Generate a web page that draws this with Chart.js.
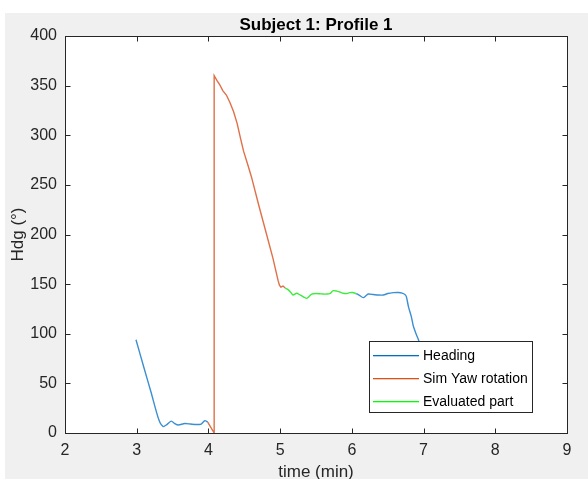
<!DOCTYPE html>
<html>
<head>
<meta charset="utf-8">
<script src="https://cdn.jsdelivr.net/npm/chart.js@4.4.1/dist/chart.umd.min.js"></script>
<style>
  html, body { margin: 0; padding: 0; background: #fff; }
  #wrap { width: 588px; height: 479px; }
</style>
</head>
<body>
<div id="wrap"><canvas id="hdgChart" width="588" height="479"></canvas></div>
<script>
  // heading before and after the simulated yaw section (min, deg)
  const headingT1 = [2.99, 3.1, 3.2, 3.31, 3.37, 3.42, 3.48, 3.53, 3.58, 3.67, 3.75, 3.83, 3.9, 3.95, 3.99];
  const headingV1 = [94, 66, 41, 13, 6.5, 8.5, 12, 9.5, 8, 9.5, 9, 8.5, 9, 12.5, 11];
  const headingT2 = [6.06, 6.1, 6.16, 6.2, 6.23, 6.3, 6.37, 6.44, 6.5, 6.58, 6.65, 6.7, 6.74, 6.76, 6.79, 6.83, 6.86, 6.9, 6.93, 6.98];
  const headingV2 = [140.5, 139, 136.4, 138.5, 140, 139.5, 139, 139, 140.5, 141.4, 141.6, 141, 139.5, 137.4, 127, 117, 107, 99, 93.7, 80];

  // simulated yaw rotation
  const yawT = [3.99, 4.08, 4.08, 4.12, 4.16, 4.2, 4.25, 4.3, 4.35, 4.4, 4.45, 4.49, 4.55, 4.6, 4.7, 4.8, 4.9, 4.97, 4.99, 5.01, 5.04, 5.07];
  const yawV = [11, 0, 360, 355, 350.6, 345, 340.5, 333, 324, 312, 296, 284, 270, 258, 230, 203, 176, 154, 149, 147, 148, 146];

  // evaluated part
  const evalT = [5.07, 5.1, 5.14, 5.18, 5.23, 5.28, 5.33, 5.37, 5.41, 5.44, 5.5, 5.55, 5.6, 5.65, 5.7, 5.74, 5.79, 5.84, 5.88, 5.93, 5.97, 6.01, 6.06];
  const evalV = [146, 145, 142.4, 139, 140.8, 139, 137, 135.7, 138, 140, 140.5, 140.3, 140, 140, 140.8, 143.4, 143, 141.8, 140.8, 140.5, 141.4, 141.5, 140.5];

  const xTicks = [2, 3, 4, 5, 6, 7, 8, 9];
  const yTicks = [0, 50, 100, 150, 200, 250, 300, 350, 400];

  const legendNames = ["Heading", "Sim Yaw rotation", "Evaluated part"];
  const lineColors = ["#0072bd", "#d95319", "#00ff00"];

  const FONT = "'Liberation Sans', Arial, Helvetica, sans-serif";
  const INK = "#262626";

  function pts(ts, vs) {
    return ts.map((t, i) => ({ x: t, y: vs[i] }));
  }

  const headingData = pts(headingT1, headingV1).concat([{ x: 5, y: null }], pts(headingT2, headingV2));

  // figure background, axes box with inward ticks, titles and legend
  const matlabLook = {
    id: "matlabLook",
    beforeDraw(chart) {
      const { ctx, chartArea: a } = chart;
      ctx.save();
      ctx.fillStyle = "#fff";
      ctx.fillRect(0, 0, chart.width, chart.height);
      ctx.fillStyle = "#f0f0f0";
      ctx.fillRect(5, 13, chart.width - 5, chart.height - 13);
      ctx.fillStyle = "#fff";
      ctx.fillRect(a.left, a.top, a.right - a.left, a.bottom - a.top);
      ctx.restore();
    },
    afterDatasetsDraw(chart) {
      const { ctx, chartArea: a, scales } = chart;
      ctx.save();
      ctx.strokeStyle = INK;
      ctx.lineWidth = 1;
      const L = Math.round(a.left) + 0.5, R = Math.round(a.right) + 0.5;
      const T = Math.round(a.top) + 0.5, B = Math.round(a.bottom) + 0.5;
      ctx.strokeRect(L, T, R - L, B - T);
      ctx.beginPath();
      xTicks.forEach(v => {
        const px = Math.round(scales.x.getPixelForValue(v)) + 0.5;
        ctx.moveTo(px, B); ctx.lineTo(px, B - 5);
        ctx.moveTo(px, T); ctx.lineTo(px, T + 5);
      });
      yTicks.forEach(v => {
        const py = Math.round(scales.y.getPixelForValue(v)) + 0.5;
        ctx.moveTo(L, py); ctx.lineTo(L + 5, py);
        ctx.moveTo(R, py); ctx.lineTo(R - 5, py);
      });
      ctx.stroke();

      // titles
      ctx.fillStyle = "#000";
      ctx.textAlign = "center";
      ctx.textBaseline = "middle";
      ctx.font = "bold 17px " + FONT;
      ctx.fillText("Subject 1: Profile 1", (a.left + a.right) / 2, 25);
      ctx.fillStyle = INK;
      ctx.font = "17px " + FONT;
      ctx.fillText("time (min)", (a.left + a.right) / 2, 472);
      ctx.save();
      ctx.translate(18, (a.top + a.bottom) / 2);
      ctx.rotate(-Math.PI / 2);
      ctx.fillText("Hdg (°)", 0, 0);
      ctx.restore();

      // legend box
      const bx = 369.5, by = 341.5, bw = 163, bh = 71;
      ctx.fillStyle = "#fff";
      ctx.fillRect(bx, by, bw, bh);
      ctx.strokeStyle = INK;
      ctx.strokeRect(bx, by, bw, bh);
      ctx.font = "14px " + FONT;
      ctx.textAlign = "left";
      legendNames.forEach((name, i) => {
        const y = 355 + i * 23;
        ctx.fillStyle = lineColors[i];
        ctx.fillRect(373, y, 46, 1.3);
        ctx.fillStyle = "#000";
        ctx.fillText(name, 423, y + 1);
      });
      ctx.restore();
    }
  };

  new Chart(document.getElementById("hdgChart"), {
    type: "scatter",
    data: {
      datasets: [
        { label: legendNames[0], data: headingData, borderColor: "#3a8fd2", borderWidth: 1.4, showLine: true, pointRadius: 0, tension: 0.25, spanGaps: false },
        { label: legendNames[1], data: pts(yawT, yawV), borderColor: "#e07048", borderWidth: 1.4, showLine: true, pointRadius: 0, tension: 0 },
        { label: legendNames[2], data: pts(evalT, evalV), borderColor: "#3eec3e", borderWidth: 1.4, showLine: true, pointRadius: 0, tension: 0.25 }
      ]
    },
    options: {
      responsive: false,
      animation: false,
      layout: { padding: { top: 36, right: 21, left: 0, bottom: 0 } },
      plugins: { legend: { display: false }, tooltip: { enabled: false } },
      scales: {
        x: {
          type: "linear", min: 2, max: 9,
          afterFit(s) { s.height = 46; },
          afterBuildTicks(s) { s.ticks = xTicks.map(v => ({ value: v })); },
          grid: { display: false, drawTicks: false },
          border: { display: false },
          ticks: { padding: 8, color: INK, font: { family: FONT, size: 16 }, autoSkip: false, maxRotation: 0 }
        },
        y: {
          type: "linear", min: 0, max: 400,
          afterFit(s) { s.width = 65; },
          afterBuildTicks(s) { s.ticks = yTicks.map(v => ({ value: v })); },
          grid: { display: false, drawTicks: false },
          border: { display: false },
          ticks: { padding: 8, color: INK, font: { family: FONT, size: 16 }, autoSkip: false }
        }
      }
    },
    plugins: [matlabLook]
  });
</script>
</body>
</html>
